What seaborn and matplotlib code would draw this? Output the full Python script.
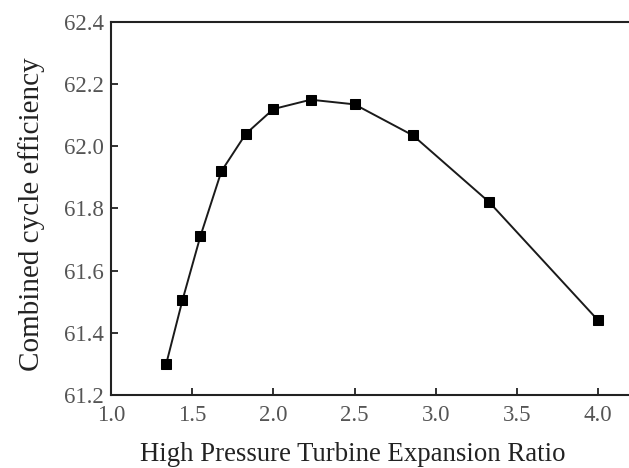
import pandas as pd
import numpy as np
import seaborn as sns
import matplotlib.pyplot as plt

# values
expansion_ratio = [1.34, 1.44, 1.55, 1.68, 1.83, 2.00, 2.23, 2.50, 2.86, 3.33, 4.00]
efficiency = [61.30, 61.505, 61.71, 61.92, 62.04, 62.12, 62.15, 62.135, 62.035, 61.82, 61.44]
x_ticks = [1.0, 1.5, 2.0, 2.5, 3.0, 3.5, 4.0]
y_ticks = [61.2, 61.4, 61.6, 61.8, 62.0, 62.2, 62.4]

df = pd.DataFrame({"ratio": expansion_ratio, "eff": efficiency})

sns.set_style("ticks")
plt.rcParams['font.family'] = ['Liberation Serif', 'DejaVu Serif']

fig = plt.figure(figsize=(6.29, 4.68), dpi=100)
ax = fig.add_axes([0.1765, 0.156, 0.8235, 0.797])

sns.lineplot(data=df, x="ratio", y="eff", ax=ax, color="#1a1a1a", linewidth=1.4,
             marker="s", markersize=7, markeredgecolor="black", markerfacecolor="black")

ax.set_xlim(1.0, 4.19)
ax.set_ylim(61.2, 62.4)
ax.set_xticks(x_ticks)
ax.set_yticks(y_ticks)
ax.set_xticklabels([f"{t:.1f}" for t in x_ticks])
ax.set_yticklabels([f"{t:.1f}" for t in y_ticks])

ax.tick_params(direction="in", length=5, width=1.3, labelsize=16.5, colors="#222222",
               labelcolor="#555555", pad=5)
ax.tick_params(axis="x", pad=7)
for side in ["left", "bottom", "top"]:
    ax.spines[side].set_linewidth(1.5)
    ax.spines[side].set_color("#222222")
ax.spines["right"].set_visible(False)

ax.set_xlabel("High Pressure Turbine Expansion Ratio", fontsize=19.3, color="#222222")
ax.set_ylabel("Combined cycle efficiency", fontsize=21, color="#222222")
ax.xaxis.set_label_coords(0.467, -0.125)
ax.yaxis.set_label_coords(-0.127, 0.485)

plt.savefig("out.png", dpi=100)
